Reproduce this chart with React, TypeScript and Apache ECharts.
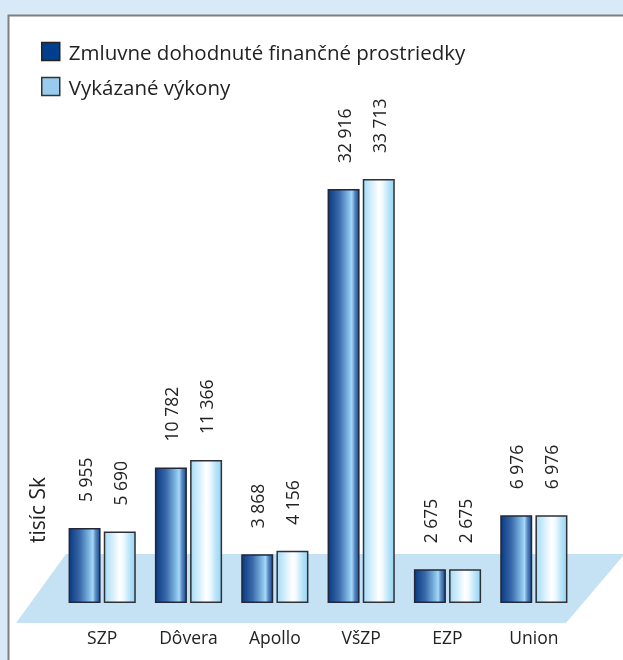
import React, { useEffect, useRef } from "react";
import * as echarts from "echarts";

const categories = ["SZP", "Dôvera", "Apollo", "VšZP", "EZP", "Union"];
const contracted = [5955, 10782, 3868, 32916, 2675, 6976];
const reported = [5690, 11366, 4156, 33713, 2675, 6976];
const seriesNames = ["Zmluvne dohodnuté finančné prostriedky", "Vykázané výkony"];
const unitLabel = "tisíc Sk";

const FONT = "'Open Sans', sans-serif";

function fmt(v: number): string {
  return String(v).replace(/\B(?=(\d{3})+(?!\d))/g, " ");
}

export default function App() {
  const ref = useRef<HTMLDivElement>(null);
  useEffect(() => {
    if (!ref.current) return;
    const chart = echarts.init(ref.current, undefined, { renderer: "svg" });
    const darkGrad = new echarts.graphic.LinearGradient(0, 0, 1, 0, [
      { offset: 0, color: "#0a3a82" },
      { offset: 0.35, color: "#3a6aaa" },
      { offset: 0.68, color: "#86bfe8" },
      { offset: 0.77, color: "#a8d8f4" },
      { offset: 0.86, color: "#5a8cc6" },
      { offset: 1, color: "#1a4a8e" },
    ]);
    const lightGrad = new echarts.graphic.LinearGradient(0, 0, 1, 0, [
      { offset: 0, color: "#a6dcf6" },
      { offset: 0.5, color: "#ffffff" },
      { offset: 0.62, color: "#f0faff" },
      { offset: 0.85, color: "#b2e1f8" },
      { offset: 1, color: "#9cd5f3" },
    ]);
    const labelCfg = {
      show: true,
      position: "top",
      rotate: 90,
      align: "left",
      verticalAlign: "middle",
      distance: 26,
      fontFamily: FONT,
      fontSize: 17.5,
      color: "#222",
      formatter: (p: any) => fmt(p.value),
    };
    chart.setOption({
      animation: false,
      graphic: [
        { type: "rect", silent: true, z: -10, shape: { x: 0, y: 0, width: 623, height: 660 }, style: { fill: "#d8eaf7" } },
        { type: "rect", silent: true, z: -9, shape: { x: 8.5, y: 15.5, width: 640, height: 700 }, style: { fill: "#ffffff", stroke: "#7f7f7f", lineWidth: 2 } },
        { type: "polygon", silent: true, z: -8, shape: { points: [[66, 554], [623, 554], [623, 556], [566, 623], [16, 623]] }, style: { fill: "#c5e1f4" } },
        { type: "text", silent: true, x: 37, y: 510, rotation: Math.PI / 2, style: { text: unitLabel, fontFamily: FONT, fontSize: 21, fill: "#222", align: "center", verticalAlign: "middle" } },
      ],
      legend: {
        orient: "vertical",
        left: 36,
        top: 36,
        itemWidth: 18,
        itemHeight: 18,
        itemGap: 14,
        icon: "rect",
        textStyle: { fontFamily: FONT, fontSize: 20.5, color: "#222", padding: [0, 0, 0, 4] },
        data: [
          { name: seriesNames[0], itemStyle: { color: "#003f8e", borderColor: "#222", borderWidth: 1.5 } },
          { name: seriesNames[1], itemStyle: { color: "#99cbee", borderColor: "#333", borderWidth: 1.5 } },
        ],
      },
      grid: { left: 59, width: 518, top: 100, height: 503, containLabel: false },
      xAxis: {
        type: "category",
        data: categories,
        axisLine: { show: false },
        axisTick: { show: false },
        axisLabel: { fontFamily: FONT, fontSize: 17.5, color: "#222", margin: 25 },
      },
      yAxis: { type: "value", min: 0, max: 40000, show: false, splitLine: { show: false } },
      series: [
        {
          name: seriesNames[0],
          type: "bar",
          data: contracted,
          barWidth: 32,
          barGap: "10%",
          itemStyle: { color: darkGrad, borderColor: "#22283a", borderWidth: 1.5 },
          label: labelCfg,
        },
        {
          name: seriesNames[1],
          type: "bar",
          data: reported,
          barWidth: 32,
          itemStyle: { color: lightGrad, borderColor: "#2e3036", borderWidth: 1.5 },
          label: labelCfg,
        },
      ],
    });
    return () => chart.dispose();
  }, []);
  return <div ref={ref} style={{ position: "fixed", left: 0, top: 0, width: 623, height: 660 }} />;
}
